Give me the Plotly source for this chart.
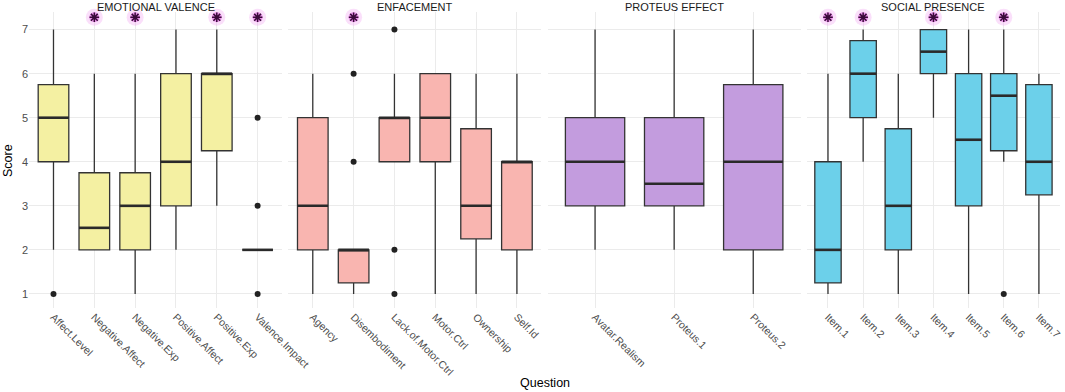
import plotly.graph_objects as go

# ---------------- data ----------------
facets = ["EMOTIONAL VALENCE", "ENFACEMENT", "PROTEUS EFFECT", "SOCIAL PRESENCE"]
fill_colors = ["#F4F0A2", "#F9B5B0", "#C39CDE", "#6CD0EA"]

ev_questions = ["Affect.Level", "Negative.Affect", "Negative.Exp", "Positive.Affect", "Positive.Exp", "Valence.Impact"]
ev_lower = [2, 2, 1, 2, 3, 2]
ev_q1 = [4, 2, 2, 3, 4.25, 2]
ev_median = [5, 2.5, 3, 4, 6, 2]
ev_q3 = [5.75, 3.75, 3.75, 6, 6, 2]
ev_upper = [7, 6, 6, 7, 7, 2]
ev_outliers = [[1], [], [], [], [], [1, 3, 5]]
ev_sig = [False, True, True, False, True, True]

en_questions = ["Agency", "Disembodiment", "Lack.of.Motor.Ctrl", "Motor.Ctrl", "Ownership", "Self.Id"]
en_lower = [1, 1, 4, 1, 1, 1]
en_q1 = [2, 1.25, 4, 4, 2.25, 2]
en_median = [3, 2, 5, 5, 3, 4]
en_q3 = [5, 2, 5, 6, 4.75, 4]
en_upper = [6, 2, 6, 6, 6, 6]
en_outliers = [[], [4, 6], [1, 2, 7], [], [], []]
en_sig = [False, True, False, False, False, False]

pe_questions = ["Avatar.Realism", "Proteus.1", "Proteus.2"]
pe_lower = [2, 2, 1]
pe_q1 = [3, 3, 2]
pe_median = [4, 3.5, 4]
pe_q3 = [5, 5, 5.75]
pe_upper = [7, 7, 7]
pe_outliers = [[], [], []]
pe_sig = [False, False, False]

sp_questions = ["Item.1", "Item.2", "Item.3", "Item.4", "Item.5", "Item.6", "Item.7"]
sp_lower = [1, 4, 1, 5, 1, 4, 1]
sp_q1 = [1.25, 5, 2, 6, 3, 4.25, 3.25]
sp_median = [2, 6, 3, 6.5, 4.5, 5.5, 4]
sp_q3 = [4, 6.75, 4.75, 7, 6, 6, 5.75]
sp_upper = [6, 7, 6, 7, 7, 7, 6]
sp_outliers = [[], [], [], [], [], [1], []]
sp_sig = [True, True, False, True, False, True, False]

star_y = 7.28
y_ticks = [1, 2, 3, 4, 5, 6, 7]

panels = [
    (ev_questions, ev_lower, ev_q1, ev_median, ev_q3, ev_upper, ev_outliers, ev_sig),
    (en_questions, en_lower, en_q1, en_median, en_q3, en_upper, en_outliers, en_sig),
    (pe_questions, pe_lower, pe_q1, pe_median, pe_q3, pe_upper, pe_outliers, pe_sig),
    (sp_questions, sp_lower, sp_q1, sp_median, sp_q3, sp_upper, sp_outliers, sp_sig),
]

# ---------------- figure ----------------
FONT = "Liberation Sans, Arial, sans-serif"
TICK_COLOR = "#4D4D4D"
GRID = "#EBEBEB"
LINE = "#333333"
BOX_W = 0.75

fig = go.Figure()
gap = 0.006
width = (1 - 3 * gap) / 4
layout_axes = {}
annotations = []

for i, (qs, lo, q1, med, q3, up, outs, sig) in enumerate(panels):
    k = i + 1
    xa = f"x{k}" if k > 1 else "x"
    ya = f"y{k}" if k > 1 else "y"
    xs = list(range(len(qs)))

    fig.add_trace(go.Box(
        x=xs, q1=q1, median=med, q3=q3, lowerfence=lo, upperfence=up,
        fillcolor=fill_colors[i], line=dict(color=LINE, width=1.3),
        whiskerwidth=0, width=BOX_W, boxpoints=False, hoverinfo="skip",
        xaxis=xa, yaxis=ya, showlegend=False,
    ))
    # thicker median lines (ggplot style)
    mx, my = [], []
    for x, m in zip(xs, med):
        mx += [x - BOX_W / 2, x + BOX_W / 2, None]
        my += [m, m, None]
    fig.add_trace(go.Scatter(x=mx, y=my, mode="lines",
                             line=dict(color="#2A2A2A", width=2.6),
                             xaxis=xa, yaxis=ya, showlegend=False, hoverinfo="skip"))
    # outliers
    ox, oy = [], []
    for x, vals in zip(xs, outs):
        for v in vals:
            ox.append(x)
            oy.append(v)
    if ox:
        fig.add_trace(go.Scatter(x=ox, y=oy, mode="markers",
                                 marker=dict(color="#222222", size=6),
                                 xaxis=xa, yaxis=ya, showlegend=False, hoverinfo="skip"))
    # significance stars
    sx = [x for x, s in zip(xs, sig) if s]
    if sx:
        sy = [star_y] * len(sx)
        fig.add_trace(go.Scatter(x=sx, y=sy, mode="markers",
                                 marker=dict(color="rgba(240,150,240,0.30)", size=17, line=dict(width=0)),
                                 xaxis=xa, yaxis=ya, showlegend=False, hoverinfo="skip", cliponaxis=False))
        fig.add_trace(go.Scatter(x=sx, y=sy, mode="markers",
                                 marker=dict(color="rgba(215,70,215,0.5)", size=10, line=dict(width=0)),
                                 xaxis=xa, yaxis=ya, showlegend=False, hoverinfo="skip", cliponaxis=False))
        fig.add_trace(go.Scatter(x=sx, y=sy, mode="markers",
                                 marker=dict(symbol="asterisk-open", color="#3A0A3A", size=8,
                                             line=dict(color="#3A0A3A", width=1.5)),
                                 xaxis=xa, yaxis=ya, showlegend=False, hoverinfo="skip", cliponaxis=False))

    d0 = i * (width + gap)
    d1 = d0 + width
    layout_axes["xaxis" if k == 1 else f"xaxis{k}"] = dict(
        domain=[d0, d1], anchor=ya, range=[-0.6, len(qs) - 0.4], automargin=False,
        tickmode="array", tickvals=xs, ticktext=qs, tickangle=45,
        showgrid=True, gridcolor=GRID, gridwidth=1, zeroline=False, showline=False,
        ticks="", tickfont=dict(family=FONT, size=10.5, color=TICK_COLOR),
    )
    layout_axes["yaxis" if k == 1 else f"yaxis{k}"] = dict(
        domain=[0, 1], anchor=xa, range=[0.68, 7.4], automargin=False,
        tickmode="array", tickvals=y_ticks, showticklabels=(k == 1),
        showgrid=True, gridcolor=GRID, gridwidth=1, zeroline=False, showline=False,
        ticks="", tickfont=dict(family=FONT, size=11, color=TICK_COLOR),
    )
    annotations.append(dict(
        text=facets[i], x=(d0 + d1) / 2, y=1, xref="paper", yref="paper",
        xanchor="center", yanchor="bottom", yshift=-3, showarrow=False,
        font=dict(family=FONT, size=11, color="#1A1A1A"),
    ))

annotations.append(dict(text="Question", x=0.5, y=-0.253, xref="paper", yref="paper",
                        xanchor="center", yanchor="middle", showarrow=False,
                        font=dict(family=FONT, size=12.5, color="#000000")))
annotations.append(dict(text="Score", x=-0.0204, y=0.5, xref="paper", yref="paper",
                        xanchor="center", yanchor="middle", textangle=-90, showarrow=False,
                        font=dict(family=FONT, size=12.5, color="#000000")))

fig.update_layout(
    width=1065, height=392,
    margin=dict(l=29, r=5, t=12, b=84),
    paper_bgcolor="white", plot_bgcolor="white",
    showlegend=False, annotations=annotations,
    **layout_axes,
)

fig.write_html("out.html", config={"displayModeBar": False},
               post_script="document.body.style.margin='0';")
